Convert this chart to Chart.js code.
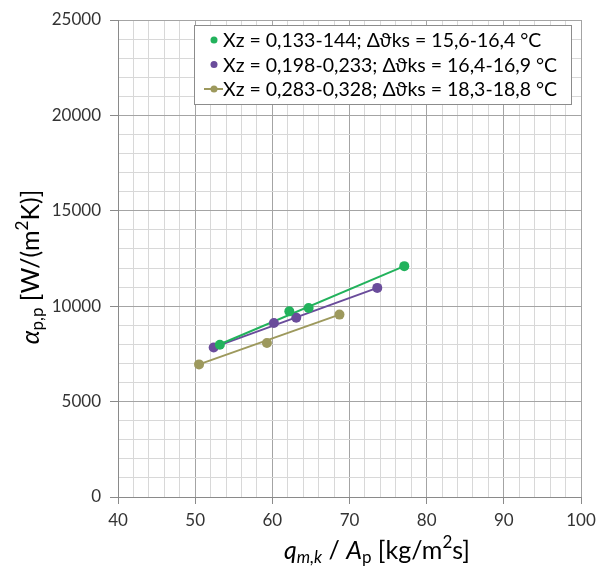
<!DOCTYPE html>
<html lang="en">
<head>
  <meta charset="UTF-8" />
  <title>alpha vs mass flux</title>
  <script src="https://cdn.jsdelivr.net/npm/chart.js"></script>
  <style>
    html, body { margin: 0; padding: 0; background: #fff; }
    #wrap { width: 598px; height: 572px; }
  </style>
</head>
<body>
  <div id="wrap"><canvas id="chart" width="598" height="572"></canvas></div>

  <script>
    // values
    const seriesLabels = [
      'Xz = 0,133-144; Δϑks = 15,6-16,4 °C',
      'Xz = 0,198-0,233; Δϑks = 16,4-16,9 °C',
      'Xz = 0,283-0,328; Δϑks = 18,3-18,8 °C'
    ];
    const seriesColors = ['#22b25c', '#6a4c9b', '#9d995d'];

    const xGreen = [53.2, 62.2, 64.7, 77.1];
    const yGreen = [7980, 9730, 9910, 12100];
    const xPurple = [52.4, 60.2, 63.1, 73.6];
    const yPurple = [7840, 9120, 9400, 10960];
    const xOlive = [50.5, 59.3, 68.7];
    const yOlive = [6950, 8070, 9560];

    // trend line ends, as drawn in the picture
    const trendGreenX = [52.6, 77.1];
    const trendGreenY = [7900, 12100];
    const trendPurpleX = [52.4, 73.6];
    const trendPurpleY = [7840, 10960];
    const trendOliveX = [50.5, 68.7];
    const trendOliveY = [6950, 9560];

    const xMin = 40, xMax = 100, xMinor = 2, xMajor = 10;
    const yMin = 0, yMax = 25000, yMinor = 1000, yMajor = 5000;

    const FONT = 'Lato';

    function pts(xs, ys) {
      return xs.map((x, i) => ({ x: x, y: ys[i] }));
    }

    function lineSet(xs, ys, color) {
      return {
        data: pts(xs, ys),
        showLine: true,
        borderColor: color,
        borderWidth: 2,
        pointRadius: 0,
        pointHoverRadius: 0,
        order: 2
      };
    }

    function markerSet(xs, ys, color, label) {
      return {
        label: label,
        data: pts(xs, ys),
        showLine: false,
        backgroundColor: color,
        borderColor: color,
        pointRadius: 5,
        pointBorderWidth: 0,
        order: 1
      };
    }

    // text with italic / sub / superscript pieces
    function drawRich(ctx, parts, size, cx, cy, rotate) {
      const fontOf = p => (p.italic ? 'italic ' : '') + ((p.sub || p.sup) ? Math.round(size * 0.68) : size) + 'px ' + FONT;
      let w = 0;
      parts.forEach(p => { ctx.font = fontOf(p); w += ctx.measureText(p.t).width; });
      ctx.save();
      ctx.translate(cx, cy);
      if (rotate) ctx.rotate(-Math.PI / 2);
      ctx.fillStyle = '#000';
      ctx.textBaseline = 'middle';
      ctx.textAlign = 'left';
      let x = -w / 2;
      parts.forEach(p => {
        ctx.font = fontOf(p);
        let dy = 0;
        if (p.sub) dy = size * 0.28;
        if (p.sup) dy = -size * 0.32;
        ctx.fillText(p.t, x, dy);
        x += ctx.measureText(p.t).width;
      });
      ctx.restore();
    }

    const extras = {
      id: 'extras',
      afterDraw(chart) {
        const ctx = chart.ctx;

        // axis titles
        drawRich(ctx, [
          { t: 'α', italic: true }, { t: 'p,p', sub: true },
          { t: ' [W/(m' }, { t: '2', sup: true }, { t: 'K)]' }
        ], 25, 31, 267, true);
        drawRich(ctx, [
          { t: 'q', italic: true }, { t: 'm,k', italic: true, sub: true },
          { t: ' / ' }, { t: 'A', italic: true }, { t: 'p', sub: true },
          { t: ' [kg/m' }, { t: '2', sup: true }, { t: 's]' }
        ], 25, 377, 551, false);

        // legend box
        const bx = 194, by = 25, bw = 377, bh = 79;
        ctx.save();
        ctx.fillStyle = '#fff';
        ctx.fillRect(bx, by, bw, bh);
        ctx.strokeStyle = '#8c8c8c';
        ctx.lineWidth = 1;
        ctx.strokeRect(bx + 0.5, by + 0.5, bw, bh);
        ctx.font = '19.5px ' + FONT;
        ctx.textBaseline = 'middle';
        ctx.fillStyle = '#000';
        seriesLabels.forEach((lab, i) => {
          const ry = by + 15 + i * 24.5;
          const mx = 214;
          ctx.fillStyle = seriesColors[i];
          ctx.strokeStyle = seriesColors[i];
          if (i === 2) {
            ctx.lineWidth = 2;
            ctx.beginPath();
            ctx.moveTo(204, ry);
            ctx.lineTo(223, ry);
            ctx.stroke();
          }
          ctx.beginPath();
          ctx.arc(mx, ry, 3.5, 0, Math.PI * 2);
          ctx.fill();
          ctx.fillStyle = '#000';
          ctx.fillText(lab, 223, ry + 1);
        });
        ctx.restore();
      }
    };

    const isMajor = (v, step) => Math.abs(v / step - Math.round(v / step)) < 1e-6;

    new Chart(document.getElementById('chart').getContext('2d'), {
      type: 'scatter',
      data: {
        datasets: [
          lineSet(trendGreenX, trendGreenY, seriesColors[0]),
          lineSet(trendPurpleX, trendPurpleY, seriesColors[1]),
          lineSet(trendOliveX, trendOliveY, seriesColors[2]),
          markerSet(xGreen, yGreen, seriesColors[0], seriesLabels[0]),
          markerSet(xPurple, yPurple, seriesColors[1], seriesLabels[1]),
          markerSet(xOlive, yOlive, seriesColors[2], seriesLabels[2])
        ]
      },
      options: {
        responsive: false,
        animation: false,
        layout: { padding: { left: 0, top: 20, right: 17, bottom: 0 } },
        plugins: {
          legend: { display: false },
          tooltip: { enabled: false }
        },
        scales: {
          x: {
            type: 'linear',
            min: xMin,
            max: xMax,
            afterFit: s => { s.height = 75; s.paddingLeft = 0; s.paddingRight = 0; },
            border: { color: '#8a8a8a' },
            grid: {
              color: c => (c.tick && isMajor(c.tick.value, xMajor)) ? '#a4a4a4' : '#d8d8d8',
              tickColor: c => (c.tick && isMajor(c.tick.value, xMajor)) ? '#8a8a8a' : 'rgba(0,0,0,0)',
              tickLength: 7
            },
            ticks: {
              stepSize: xMinor,
              autoSkip: false,
              maxRotation: 0,
              padding: 6,
              color: '#333',
              font: { family: FONT, size: 17 },
              callback: v => isMajor(v, xMajor) ? String(v) : ''
            }
          },
          y: {
            min: yMin,
            max: yMax,
            afterFit: s => { s.width = 118; s.paddingTop = 0; s.paddingBottom = 0; },
            border: { color: '#8a8a8a' },
            grid: {
              color: c => (c.tick && isMajor(c.tick.value, yMajor)) ? '#a4a4a4' : '#d8d8d8',
              tickColor: c => (c.tick && isMajor(c.tick.value, yMajor)) ? '#8a8a8a' : 'rgba(0,0,0,0)',
              tickLength: 8
            },
            ticks: {
              stepSize: yMinor,
              autoSkip: false,
              padding: 9,
              color: '#333',
              font: { family: FONT, size: 17 },
              callback: v => isMajor(v, yMajor) ? String(v) : ''
            }
          }
        }
      },
      plugins: [extras]
    });
  </script>
</body>
</html>
